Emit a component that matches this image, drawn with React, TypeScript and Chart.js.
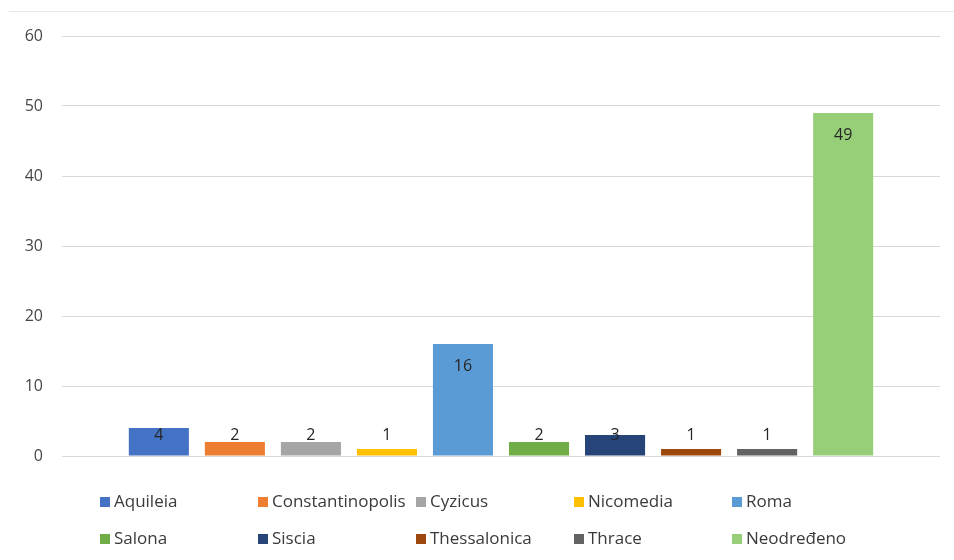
import React, { useEffect, useRef } from "react";
import { Chart, registerables } from "chart.js";

Chart.register(...registerables);

const seriesNames = [
  "Aquileia",
  "Constantinopolis",
  "Cyzicus",
  "Nicomedia",
  "Roma",
  "Salona",
  "Siscia",
  "Thessalonica",
  "Thrace",
  "Neodređeno",
];
const seriesValues = [4, 2, 2, 1, 16, 2, 3, 1, 1, 49];
const seriesColors = [
  "#4472C4",
  "#ED7D31",
  "#A5A5A5",
  "#FFC000",
  "#5B9BD5",
  "#70AD47",
  "#264478",
  "#9E480E",
  "#636363",
  "#97CF79",
];
const yTicks = [0, 10, 20, 30, 40, 50, 60];

const FONT = "'Open Sans', 'Liberation Sans', sans-serif";

const framePlugin = {
  id: "frame",
  beforeDraw(chart: any) {
    const ctx = chart.ctx;
    ctx.save();
    ctx.strokeStyle = "#ECE6E6";
    ctx.lineWidth = 1;
    ctx.beginPath();
    ctx.moveTo(9, 11.5);
    ctx.lineTo(954, 11.5);
    ctx.stroke();
    ctx.restore();
  },
};

const labelsPlugin = {
  id: "barLabels",
  afterDatasetsDraw(chart: any) {
    const ctx = chart.ctx;
    ctx.save();
    ctx.font = `16px ${FONT}`;
    ctx.fillStyle = "#262626";
    ctx.textAlign = "center";
    ctx.textBaseline = "middle";
    chart.data.datasets.forEach((ds: any, i: number) => {
      const meta = chart.getDatasetMeta(i);
      meta.data.forEach((bar: any, j: number) => {
        const v = ds.data[j];
        const y = Math.min(bar.y + 22, bar.base - 20);
        ctx.fillText(String(v), bar.x, y);
      });
    });
    ctx.restore();
  },
};

const legendPlugin = {
  id: "gridLegend",
  afterDraw(chart: any) {
    const ctx = chart.ctx;
    ctx.save();
    ctx.font = `17px ${FONT}`;
    ctx.textBaseline = "middle";
    ctx.textAlign = "left";
    chart.data.datasets.forEach((ds: any, i: number) => {
      const col = i % 5;
      const row = Math.floor(i / 5);
      const x = 100 + col * 158;
      const y = 502 + row * 37;
      ctx.fillStyle = ds.backgroundColor;
      ctx.fillRect(x, y - 5, 10, 10);
      ctx.fillStyle = "#3A3A3A";
      ctx.fillText(ds.label, x + 14, y);
    });
    ctx.restore();
  },
};

export default function App() {
  const ref = useRef<HTMLCanvasElement | null>(null);
  useEffect(() => {
    if (!ref.current) return;
    const chart = new Chart(ref.current, {
      type: "bar",
      data: {
        labels: [""],
        datasets: seriesNames.map((name, i) => ({
          label: name,
          data: [seriesValues[i]],
          backgroundColor: seriesColors[i],
          borderWidth: 0,
        })),
      },
      options: {
        animation: false,
        responsive: false,
        maintainAspectRatio: false,
        layout: { padding: { left: 8, right: 14, top: 36, bottom: 104 } },
        datasets: {
          bar: { categoryPercentage: 0.866, barPercentage: 0.79 },
        },
        plugins: {
          legend: { display: false },
          tooltip: { enabled: false },
        },
        scales: {
          x: { display: false },
          y: {
            min: 0,
            max: 60,
            afterFit: (scale: any) => {
              scale.width = 54;
            },
            afterBuildTicks: (scale: any) => {
              scale.ticks = yTicks.map((v) => ({ value: v }));
            },
            border: { display: false },
            grid: { color: "#D9D9D9", lineWidth: 1, drawTicks: false },
            ticks: {
              padding: 19,
              color: "#474747",
              font: { size: 16, family: FONT },
            },
          },
        },
      },
      plugins: [framePlugin, labelsPlugin, legendPlugin],
    });
    return () => chart.destroy();
  }, []);
  return (
    <div style={{ position: "fixed", left: 0, top: 0, width: 954, height: 560, background: "#fff" }}>
      <canvas ref={ref} width={954} height={560} style={{ width: 954, height: 560 }} />
    </div>
  );
}
